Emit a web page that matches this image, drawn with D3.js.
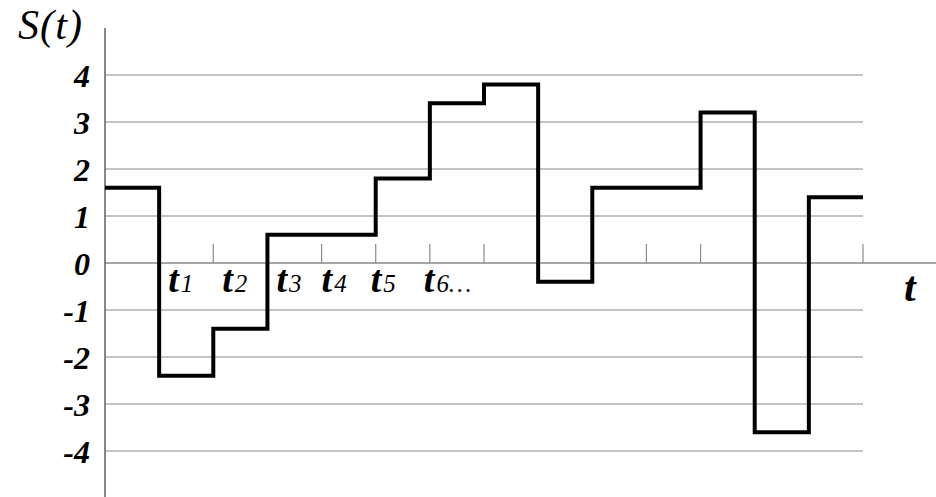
<!DOCTYPE html>
<html>
<head>
<meta charset="utf-8">
<script src="https://cdn.jsdelivr.net/npm/d3@7"></script>
<style>
  body { margin: 0; background: #fff; }
  svg { display: block; }
</style>
</head>
<body>
<svg id="chart" width="936" height="497"></svg>
<script>
// signal level in each time interval
const levels = [1.6, -2.4, -1.4, 0.6, 0.6, 1.8, 3.4, 3.8, -0.4, 1.6, 1.6, 3.2, -3.6, 1.4];
const yTicks = [4, 3, 2, 1, 0, -1, -2, -3, -4];
const tLabels = ["1", "2", "3", "4", "5", "6…"];
const tLabelTicks = [1, 2, 3, 4, 5, 6];

const width = 936, height = 497;
const serif = "Liberation Serif, DejaVu Serif";
const svg = d3.select("#chart")
  .style("font-family", serif)
  .style("font-style", "italic");

const x = d3.scaleLinear().domain([0, levels.length]).range([105, 863]);
const y = d3.scaleLinear().domain([-4, 4]).range([451, 75]);

// grid lines
svg.append("g")
  .selectAll("line")
  .data(yTicks.filter((d) => d !== 0))
  .join("line")
  .attr("x1", x(0))
  .attr("x2", x(levels.length))
  .attr("y1", (d) => y(d))
  .attr("y2", (d) => y(d))
  .attr("stroke", "#8a8a8a")
  .attr("stroke-width", 1.2);

// time axis
svg.append("line")
  .attr("x1", x(0))
  .attr("x2", width)
  .attr("y1", y(0))
  .attr("y2", y(0))
  .attr("stroke", "#8a8a8a")
  .attr("stroke-width", 1.4);

svg.append("g")
  .selectAll("line")
  .data(d3.range(1, levels.length + 1))
  .join("line")
  .attr("x1", (d) => x(d))
  .attr("x2", (d) => x(d))
  .attr("y1", y(0) - 19)
  .attr("y2", y(0))
  .attr("stroke", "#8a8a8a")
  .attr("stroke-width", 1.2);

// vertical axis
svg.append("line")
  .attr("x1", x(0))
  .attr("x2", x(0))
  .attr("y1", 28)
  .attr("y2", height)
  .attr("stroke", "#555")
  .attr("stroke-width", 1.4);

// y labels
svg.append("g")
  .selectAll("text")
  .data(yTicks)
  .join("text")
  .attr("x", 90)
  .attr("y", (d) => y(d) + 12)
  .attr("text-anchor", "end")
  .attr("font-size", 32)
  .attr("font-weight", "bold")
  .text((d) => (d < 0 ? "-" + Math.abs(d) : d));

svg.append("text")
  .attr("x", 18)
  .attr("y", 39)
  .attr("font-size", 42)
  .attr("textLength", 64)
  .text("S(t)");

svg.append("text")
  .attr("x", 904)
  .attr("y", 301)
  .attr("font-size", 42)
  .attr("font-weight", "bold")
  .text("t");

// t1, t2 ... labels under the axis
const labOffset = [9, 9, 9, 0, -5, -6];
const tl = svg.append("g")
  .selectAll("text")
  .data(tLabels)
  .join("text")
  .attr("x", (d, i) => x(tLabelTicks[i]) + labOffset[i])
  .attr("y", y(0) + 29);
tl.append("tspan").attr("font-size", 38).attr("font-weight", "bold").text("t");
tl.append("tspan").attr("font-size", 25).attr("dx", 2).text((d) => d);

// the step signal
const pts = levels.map((v, i) => [i, v]);
pts.push([levels.length, levels[levels.length - 1]]);

const line = d3.line()
  .x((d) => x(d[0]))
  .y((d) => y(d[1]))
  .curve(d3.curveStepAfter);

svg.append("path")
  .datum(pts)
  .attr("fill", "none")
  .attr("stroke", "#000")
  .attr("stroke-width", 4)
  .attr("stroke-linejoin", "miter")
  .attr("d", line);
</script>
</body>
</html>
